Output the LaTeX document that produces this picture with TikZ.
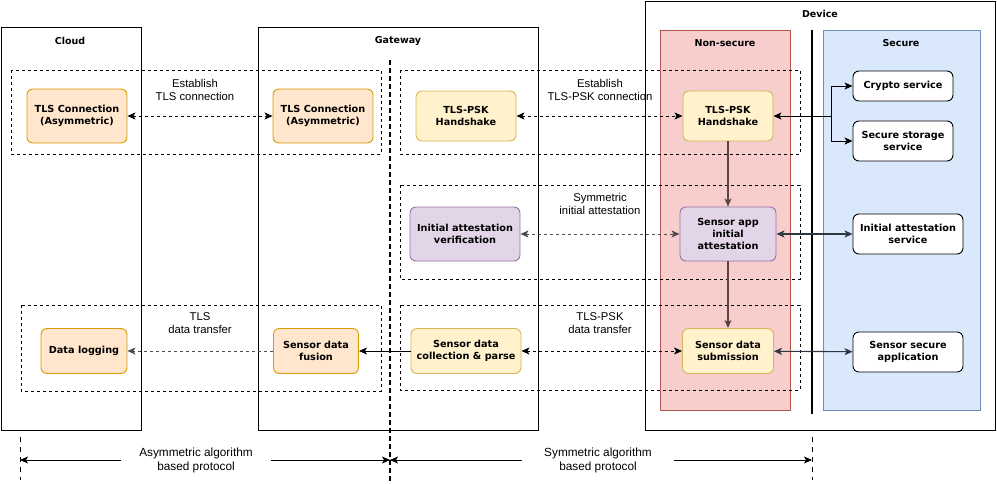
\documentclass[tikz,border=0pt]{standalone}
\usepackage{xcolor}
\usepackage{fontspec}
\usepackage{tikz}
\usetikzlibrary{arrows.meta}
\usetikzlibrary{calc}

\newfontfamily\boxfont{DejaVu Sans}
\newfontfamily\labelfont{Liberation Sans}

\definecolor{orangefill}{HTML}{FFE6CC}
\definecolor{orangeline}{HTML}{D79B00}
\definecolor{yellowfill}{HTML}{FFF2CC}
\definecolor{yellowline}{HTML}{D6B656}
\definecolor{purplefill}{HTML}{E1D5E7}
\definecolor{purpleline}{HTML}{9673A6}
\definecolor{redfill}{HTML}{F8CECC}
\definecolor{redline}{HTML}{B85450}
\definecolor{bluefill}{HTML}{DAE8FC}
\definecolor{blueline}{HTML}{6C8EBF}
\definecolor{brownline}{HTML}{5E4545}
\definecolor{darkline}{HTML}{2E3642}

\begin{document}
\begin{tikzpicture}[x=1pt,y=-1pt,line width=0.9pt,
        >={Stealth[length=8pt,width=7pt,inset=2pt]},
        box/.style={draw,rounded corners=6pt,align=center,
                font=\boxfont\bfseries\fontsize{9.7}{11.8}\selectfont,inner sep=2pt},
        orangebox/.style={box,fill=orangefill,draw=orangeline},
        yellowbox/.style={box,fill=yellowfill,draw=yellowline},
        purplebox/.style={box,fill=purplefill,draw=purpleline},
        whitebox/.style={box,fill=white,draw=black},
        title/.style={font=\boxfont\bfseries\fontsize{9.5}{11.5}\selectfont},
        msg/.style={align=center,font=\labelfont\fontsize{11.3}{12.5}\selectfont},
        proto/.style={align=center,font=\labelfont\fontsize{11.8}{14}\selectfont,fill=white,inner sep=1pt},
        group/.style={draw,dash pattern=on 3pt off 3pt,line width=0.8pt},
        spanmark/.style={line width=1pt,dash pattern=on 5pt off 5pt}]
        \useasboundingbox (0,0) rectangle (997,483);

        % columns
        \draw (1,27) rectangle (141,430);
        \node[title] (cloud) at (70,41) {Cloud};
        \draw (258,27) rectangle (538,430);
        \node[title] (gateway) at (398,41) {Gateway};
        \draw (645,1) rectangle (995,430);
        \node[title] (device) at (820,14) {Device};
        \draw[fill=redfill,draw=redline] (660,30) rectangle (790,410);
        \node[title] (nonsec) at (725,43) {Non-secure};
        \draw[fill=bluefill,draw=blueline] (823,30) rectangle (980,410);
        \node[title] (sec) at (901,43) {Secure};
        \draw[line width=2pt] (812,30)--(812,414);

        % dashed groups
        \draw[group] (11,70) rectangle (381,154);
        \draw[group] (400,70) rectangle (800,154);
        \draw[group] (400,185) rectangle (800,279);
        \draw[group] (21,305) rectangle (381,391);
        \draw[group] (400,305) rectangle (800,390);
        \draw[line width=2pt,dash pattern=on 5pt off 3pt] (390,60)--(390,483);

        % row 1
        \node[orangebox,minimum width=100pt,minimum height=54pt] (tlsC) at (77,116) {TLS Connection\\(Asymmetric)};
        \node[orangebox,minimum width=100pt,minimum height=54pt] (tlsG) at (323,116) {TLS Connection\\(Asymmetric)};
        \node[yellowbox,minimum width=100pt,minimum height=50pt] (pskG) at (466,116) {TLS-PSK\\Handshake};
        \node[yellowbox,minimum width=90pt,minimum height=50pt] (pskD) at (728,116) {TLS-PSK\\Handshake};
        \node[whitebox,minimum width=100pt,minimum height=30pt] (crypto) at (903,86) {Crypto service};
        \node[whitebox,minimum width=100pt,minimum height=40pt] (storage) at (903,141) {Secure storage\\service};
        \coordinate (split) at (831,116);
        \draw[<->,dash pattern=on 3pt off 3pt] (tlsC)--(tlsG);
        \draw[<->,dash pattern=on 3pt off 3pt] (pskG)--(pskD);
        \draw[<-] (pskD)--(split);
        \draw[->] (split)|-(crypto);
        \draw[->] (split)|-(storage);
        \node[msg] (estTls) at (195,90) {Establish\\TLS connection};
        \node[msg] (estPsk) at (600,90) {Establish\\TLS-PSK connection};

        % row 2
        \node[purplebox,minimum width=110pt,minimum height=54pt] (verif) at (465,234) {Initial attestation\\verification};
        \node[purplebox,minimum width=96pt,minimum height=54pt] (attD) at (728,234) {Sensor app\\initial\\attestation};
        \node[whitebox,minimum width=110pt,minimum height=40pt] (attS) at (908,234) {Initial attestation\\service};
        \draw[<->,dash pattern=on 3pt off 3pt,draw=black!70] (verif)--(attD);
        \draw[<->,draw=darkline,line width=1.1pt] (attD)--(attS);
        \draw[->,draw=brownline,line width=1.1pt] (pskD)--(attD);
        \node[msg] (symAtt) at (600,204) {Symmetric\\initial attestation};

        % row 3
        \node[orangebox,minimum width=86pt,minimum height=45pt] (logging) at (84,351) {Data logging};
        \node[orangebox,minimum width=85pt,minimum height=45pt] (fusion) at (316,351) {Sensor data\\fusion};
        \node[yellowbox,minimum width=110pt,minimum height=45pt] (collect) at (466,351) {Sensor data\\collection \& parse};
        \node[yellowbox,minimum width=91pt,minimum height=45pt] (submit) at (728,351) {Sensor data\\submission};
        \node[whitebox,minimum width=110pt,minimum height=40pt] (secApp) at (908,352) {Sensor secure\\application};
        \draw[->,dash pattern=on 3pt off 3pt,draw=black!70] (fusion)--(logging);
        \draw[->] (collect)--(fusion);
        \draw[<->,dash pattern=on 3pt off 3pt] (collect)--(submit);
        \draw[<->,draw=darkline,line width=1.1pt] (submit)--(secApp);
        \draw[->,draw=brownline,line width=1.1pt] (attD)--(submit);
        \node[msg] (tlsData) at (200,323) {TLS\\data transfer};
        \node[msg] (pskData) at (600,323) {TLS-PSK\\data transfer};

        % protocol span
        \coordinate (P1) at (20,460);
        \coordinate (P2) at (390,460);
        \coordinate (P3) at (812,460);
        \draw[spanmark] (20,437)--(20,480);
        \draw[spanmark] (812,437)--(812,480);
        \node[proto,minimum width=150pt] (asym) at (196,460) {Asymmetric algorithm\\based protocol};
        \node[proto,minimum width=152pt] (sym) at (598,460) {Symmetric algorithm\\based protocol};
        \draw[->] (asym.west)--(P1);
        \draw[->] (asym.east)--(P2);
        \draw[->] (sym.west)--(P2);
        \draw[->] (sym.east)--(P3);
\end{tikzpicture}
\end{document}
